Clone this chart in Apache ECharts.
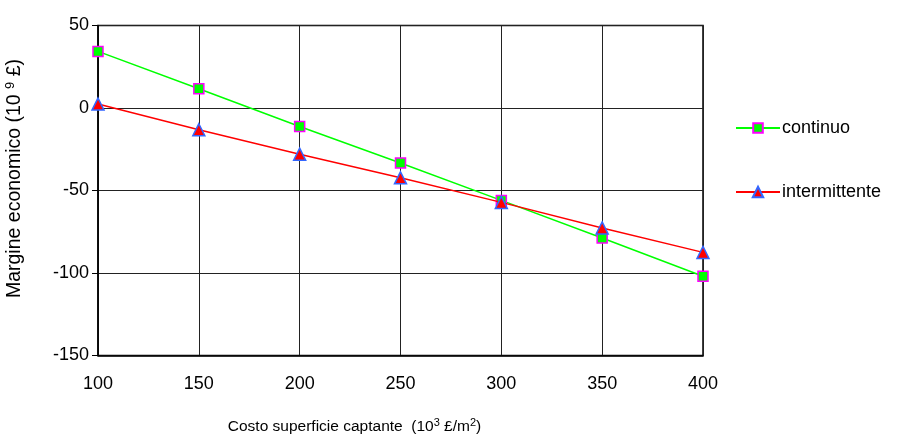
<!DOCTYPE html>
<html>
<head>
<meta charset="utf-8">
<script src="https://cdn.jsdelivr.net/npm/echarts@6/dist/echarts.min.js"></script>
<style>
html,body{margin:0;padding:0;background:#fff;}
#chart{width:901px;height:444px;}
</style>
</head>
<body>
<div id="chart"></div>
<script>
// Surface cost (10^3 £/m²)
const costs = [100, 150, 200, 250, 300, 350, 400];
// Economic margin (10^9 £)
const continuo = [34.3, 11.7, -11.2, -33.3, -56, -78.8, -102];
const intermittente = [2.4, -13.2, -28, -42.3, -57.2, -72.7, -87.5];
const yTicks = [-150, -100, -50, 0, 50];

const font = 'Liberation Sans, Arial, sans-serif';
const chart = echarts.init(document.getElementById('chart'), null, {renderer: 'canvas'});

const pairs = arr => costs.map((c, i) => [c, arr[i]]);

chart.setOption({
  animation: false,
  backgroundColor: '#fff',
  grid: {left: 98, right: 198, top: 25.5, bottom: 88.5, show: true, borderColor: '#000', borderWidth: 1.5,
    containLabel: false, outerBoundsMode: 'none'},
  xAxis: {
    type: 'value', min: 100, max: 400, interval: 50,
    axisLine: {onZero: false, lineStyle: {color: '#000', width: 1.5}},
    axisTick: {show: false},
    axisLabel: {color: '#000', fontSize: 18, fontFamily: font, margin: 20},
    splitLine: {show: true, lineStyle: {color: '#222', width: 1}},
    name: '{a|Costo superficie captante  (10}{s|3}{a| £/m}{s|2}{a|)}',
    nameLocation: 'middle', nameGap: 62,
    nameTextStyle: {
      padding: [0, 92, 0, 0],
      rich: {
        a: {fontSize: 15.5, fontFamily: font, color: '#000'},
        s: {fontSize: 11, fontFamily: font, color: '#000', verticalAlign: 'top', padding: [0, 0, 8, 0]}
      }
    }
  },
  yAxis: {
    type: 'value', min: -150, max: 50, interval: 50,
    axisLine: {show: true, onZero: false, lineStyle: {color: '#000', width: 1.5}},
    axisTick: {show: true, inside: false, length: 6, lineStyle: {color: '#000'}},
    axisLabel: {color: '#000', fontSize: 18, fontFamily: font, margin: 9,
      formatter: v => yTicks.includes(v) ? String(v) : ''},
    splitLine: {show: true, lineStyle: {color: '#222', width: 1}},
    name: '{a|Margine economico (10 }{s|9}{a| £)}',
    nameLocation: 'middle', nameGap: 72, nameRotate: 90,
    nameTextStyle: {
      padding: [0, 0, 0, 24],
      rich: {
        a: {fontSize: 19.5, fontFamily: font, color: '#000'},
        s: {fontSize: 13, fontFamily: font, color: '#000', verticalAlign: 'top', padding: [0, 0, 9, 0]}
      }
    }
  },
  legend: [
    {
      data: ['continuo'], orient: 'vertical', left: 730, top: 114,
      itemWidth: 44, itemHeight: 12, itemGap: 0,
      textStyle: {fontSize: 18, fontFamily: font, color: '#000', padding: [0, 0, 0, -3]}
    },
    {
      data: ['intermittente'], orient: 'vertical', left: 730, top: 178,
      itemWidth: 44, itemHeight: 13, itemGap: 0,
      textStyle: {fontSize: 18, fontFamily: font, color: '#000', padding: [0, 0, 0, -3]}
    }
  ],
  series: [
    {
      name: 'continuo', type: 'line', data: pairs(continuo),
      symbol: 'rect', symbolSize: 10,
      lineStyle: {color: '#00FF00', width: 1.5},
      itemStyle: {color: '#00FF00', borderColor: '#FF00FF', borderWidth: 1.5},
      z: 3
    },
    {
      name: 'intermittente', type: 'line', data: pairs(intermittente),
      symbol: 'triangle', symbolSize: 12,
      lineStyle: {color: '#FF0000', width: 1.5},
      itemStyle: {color: '#FF0000', borderColor: '#3366FF', borderWidth: 1.5},
      z: 4
    }
  ]
});
</script>
</body>
</html>
